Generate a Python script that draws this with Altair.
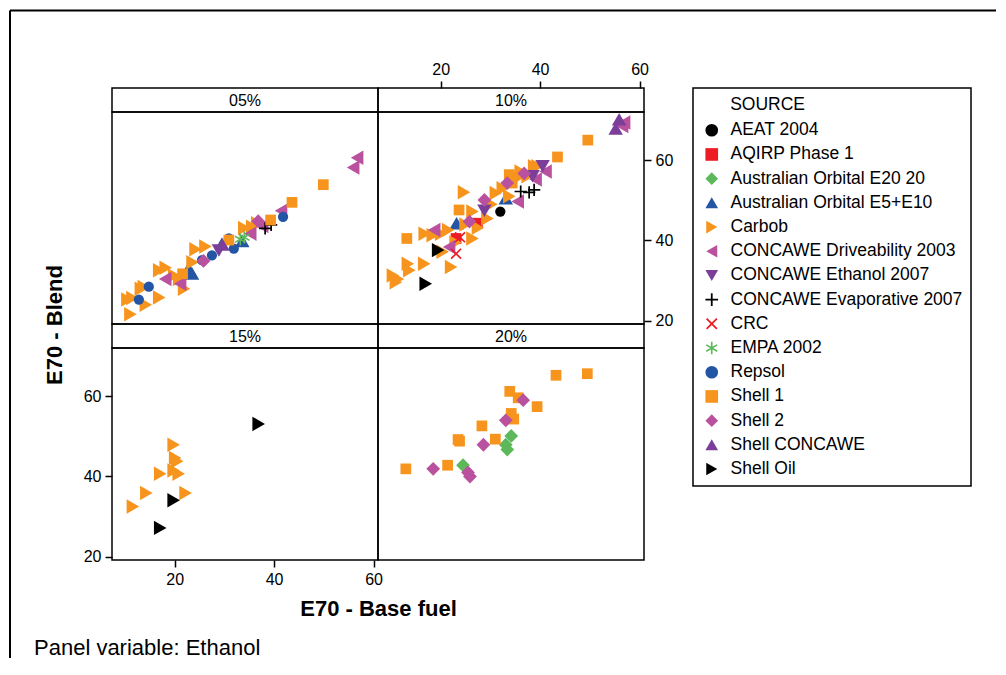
import math
import altair as alt
import pandas as pd

FONT = "Liberation Sans"

# ---------------- data ----------------
sources = ["AEAT 2004", "AQIRP Phase 1", "Australian Orbital E20 20", "Australian Orbital E5+E10",
           "Carbob", "CONCAWE Driveability 2003", "CONCAWE Ethanol 2007", "CONCAWE Evaporative 2007",
           "CRC", "EMPA 2002", "Repsol", "Shell 1", "Shell 2", "Shell CONCAWE", "Shell Oil"]
codes = {"AEAT": "AEAT 2004", "AQ": "AQIRP Phase 1", "A20": "Australian Orbital E20 20",
         "A5": "Australian Orbital E5+E10", "CB": "Carbob", "CD": "CONCAWE Driveability 2003",
         "CE": "CONCAWE Ethanol 2007", "CV": "CONCAWE Evaporative 2007", "CRC": "CRC",
         "EM": "EMPA 2002", "RP": "Repsol", "S1": "Shell 1", "S2": "Shell 2",
         "SC": "Shell CONCAWE", "SO": "Shell Oil"}
panels = ["05%", "10%", "15%", "20%"]

# Ethanol 05%
p05_src = ["CB"] * 18 + ["S1"] * 5 + ["CD"] * 7 + ["S2"] * 2 + ["RP"] * 7 + ["A5"] * 4 + ["CE", "SC", "CV", "CV", "EM", "EM"]
p05_base = [10.5, 11.5, 11.1, 13.2, 13.8, 14.2, 16.9, 16.9, 18.2, 19.9, 20.9, 21.9, 23.6, 24.2, 26.2, 34.0, 35.6, 36.6,
            21.6, 30.9, 39.3, 43.6, 49.9,
            18.1, 21.1, 35.2, 37.6, 41.4, 55.9, 56.7,
            25.8, 36.8,
            12.8, 14.8, 25.5, 27.5, 30.9, 31.9, 41.8,
            22.8, 23.5, 29.5, 33.6,
            28.9, 29.6, 38.2, 39.4, 33.2, 34.0]
p05_blend = [25.3, 25.7, 21.6, 28.0, 28.4, 24.0, 25.8, 32.6, 33.2, 31.3, 30.4, 28.0, 34.6, 37.8, 38.5, 43.1, 43.4, 44.3,
             31.7, 40.1, 45.1, 49.5, 53.9,
             30.4, 29.2, 41.7, 43.6, 47.4, 58.2, 60.6,
             34.9, 44.8,
             25.3, 28.5, 35.1, 36.3, 40.5, 38.0, 45.9,
             33.1, 31.8, 39.2, 39.9,
             37.5, 39.0, 43.0, 43.9, 40.3, 40.8]

# Ethanol 10%
p10_src = ["CB"] * 28 + ["S1"] * 6 + ["CD"] * 7 + ["CE"] * 3 + ["SC"] * 2 + ["S2"] * 4 + ["A5"] * 2 + ["AQ"] * 2 + ["CRC"] * 2 + ["CV"] * 3 + ["AEAT", "SO", "SO"]
p10_base = [10.4, 11.0, 11.4, 13.4, 13.7, 16.7, 16.8, 18.4, 20.1, 20.4, 21.5, 22.1, 23.0, 24.7, 25.0, 26.4, 26.4, 29.4,
            30.2, 31.1, 32.5, 33.8, 35.5, 36.1, 37.5, 38.8, 39.5, 27.5,
            13.2, 23.7, 33.8, 34.4, 43.5, 49.6,
            18.7, 21.7, 35.5, 39.1, 41.1, 56.5, 56.9,
            28.8, 38.5, 40.5,
            55.2, 55.9,
            25.8, 28.8, 33.4, 36.8,
            23.2, 33.1,
            23.1, 27.4,
            23.1, 23.9,
            36.1, 37.8, 38.8,
            32.0, 17.0, 19.5]
p10_blend = [31.3, 29.6, 30.4, 34.2, 32.6, 34.2, 41.7, 41.3, 41.7, 37.2, 42.6, 33.4, 39.5, 52.0, 44.0, 40.5, 47.2, 45.5,
             49.0, 51.8, 53.0, 51.0, 55.6, 57.2, 56.0, 58.5, 58.5, 43.2,
             40.5, 47.6, 56.4, 54.3, 60.8, 65.0,
             42.6, 38.4, 49.7, 55.2, 57.2, 68.5, 69.4,
             47.4, 56.0, 58.5,
             67.9, 70.2,
             44.7, 50.1, 54.3, 56.7,
             44.3, 50.5,
             40.5, 44.3,
             36.7, 40.8,
             52.2, 52.0, 52.6,
             47.2, 29.2, 37.6]

# Ethanol 15%
p15_src = ["CB"] * 9 + ["SO"] * 3
p15_base = [19.8, 20.1, 20.5, 19.8, 20.8, 17.1, 14.3, 22.2, 11.6, 36.9, 19.8, 17.1]
p15_blend = [47.9, 44.6, 43.8, 41.5, 40.7, 40.7, 35.9, 35.9, 32.5, 53.1, 34.1, 27.2]

# Ethanol 20%
p20_src = ["S1"] * 13 + ["S2"] * 6 + ["A20"] * 4
p20_base = [13.0, 21.4, 23.5, 23.8, 28.3, 31.0, 34.2, 34.7, 33.9, 35.6, 39.4, 43.2, 49.5,
            18.5, 25.5, 25.9, 28.6, 33.1, 36.6,
            24.5, 34.2, 33.1, 33.4]
p20_blend = [41.9, 42.8, 49.2, 48.8, 52.6, 49.3, 55.7, 54.3, 61.2, 59.6, 57.4, 65.2, 65.6,
             41.9, 41.0, 40.0, 47.9, 54.0, 59.0,
             42.8, 50.1, 47.9, 46.7]

x_ticks = [20, 40, 60]
y_ticks = [20, 40, 60]
x_title = "E70 - Base fuel"
y_title = "E70 - Blend"
legend_title = "SOURCE"
footnote = ["Panel variable: Ethanol"]


# ---------------- styles ----------------
def bars(angles, h, length=1.0):
    parts = []
    for a in angles:
        t = math.radians(a)
        c, s = math.cos(t) * length, math.sin(t) * length
        nx, ny = -math.sin(t) * h, math.cos(t) * h
        pts = [(-c + nx, -s + ny), (c + nx, s + ny), (c - nx, s - ny), (-c - nx, -s - ny)]
        parts.append("M" + "L".join(f"{x:.3f},{y:.3f}" for x, y in pts) + "Z")
    return "".join(parts)


PLUS = bars([0, 90], 0.14)
XMARK = bars([45, 135], 0.14, 1.15)
STAR = bars([90, 30, 150], 0.13)

colors = ["#000000", "#ED1C24", "#5DB85B", "#2454A4", "#F7941D", "#B9519F", "#7B3F99", "#000000",
          "#ED1C24", "#5DB85B", "#2454A4", "#F7941D", "#B9519F", "#7B3F99", "#000000"]
shapes = ["circle", "square", "diamond", "triangle-up", "triangle-right", "triangle-left", "triangle-down",
          PLUS, XMARK, STAR, "circle", "square", "diamond", "triangle-up", "triangle-right"]
marker_sizes = [105, 115, 190, 210, 210, 210, 210, 150, 150, 150, 105, 115, 190, 210, 210]

W, SH, PH = 266, 24, 212
xscale = alt.Scale(domain=[7.4, 60.9], nice=False, zero=False)
yscale = alt.Scale(domain=[19.2, 72.0], nice=False, zero=False)

legend = alt.Legend(
    title="\u200b" + "\u00a0" * 6 + legend_title, orient="none", legendX=581, legendY=0, direction="vertical",
    strokeColor="black", fillColor="white", padding=8,
    titleFont=FONT, titleFontSize=17.5, titleFontWeight="normal", titleColor="black", titlePadding=8,
    labelFont=FONT, labelFontSize=17.5, labelColor="black", labelLimit=400, labelOffset=10,
    symbolSize=160, symbolOffset=2, rowPadding=5.2,
    labelExpr="datum.label + '\u00a0\u00a0\u00a0'",
)
color = alt.Color("SOURCE:N", scale=alt.Scale(domain=sources, range=colors), legend=legend)
shape = alt.Shape("SOURCE:N", scale=alt.Scale(domain=sources, range=shapes), legend=legend)


def frame(panel, src, xs, ys):
    return pd.DataFrame({"Ethanol": panel, "SOURCE": [codes[s] for s in src], "base": xs, "blend": ys})


d05 = frame(panels[0], p05_src, p05_base, p05_blend)
d10 = frame(panels[1], p10_src, p10_base, p10_blend)
d15 = frame(panels[2], p15_src, p15_base, p15_blend)
d20 = frame(panels[3], p20_src, p20_base, p20_blend)


def plot(df, xaxis=None, yaxis=None):
    base = alt.Chart(df).encode(
        x=alt.X("base:Q", scale=xscale, axis=xaxis),
        y=alt.Y("blend:Q", scale=yscale, axis=yaxis),
        color=color, shape=shape,
    )
    present = [s for s in sources if s in set(df["SOURCE"])]
    layers = [
        base.transform_filter(alt.datum.SOURCE == src).mark_point(
            filled=True, opacity=1, strokeWidth=0, size=marker_sizes[sources.index(src)])
        for src in present
    ]
    return alt.layer(*layers).properties(width=W, height=PH)


def strip(label):
    return alt.Chart(pd.DataFrame({"Ethanol": [label]})).mark_text(
        font=FONT, fontSize=16, color="black", baseline="middle", align="center"
    ).encode(x=alt.value(W / 2), y=alt.value(SH / 2 + 0.5), text="Ethanol:N").properties(width=W, height=SH)


one = pd.DataFrame({"k": [0]})
frame_top = alt.Chart(one).mark_rule(color="black", strokeWidth=2).encode(
    x=alt.value(-102), x2=alt.value(884), y=alt.value(-77.5))
frame_left = alt.Chart(one).mark_rule(color="black", strokeWidth=2).encode(
    x=alt.value(-102), y=alt.value(-77.5), y2=alt.value(570))

strip05 = alt.layer(frame_top, frame_left, strip(panels[0])).properties(width=W, height=SH)

top_axis = alt.Axis(orient="top", values=x_ticks, title=None, labelFlush=False)
axis_layer = alt.Chart(d10).mark_point(opacity=0, size=1).encode(
    x=alt.X("base:Q", scale=xscale, axis=top_axis))
strip10 = alt.layer(strip(panels[1]), axis_layer).properties(width=W, height=SH)
strip15 = strip(panels[2])
strip20 = strip(panels[3])

plot05 = plot(d05)
plot10 = plot(d10, yaxis=alt.Axis(orient="right", values=y_ticks, title=None))
plot15_pts = plot(
    d15,
    xaxis=alt.Axis(orient="bottom", values=x_ticks, title=x_title, labelFlush=False,
                   titleX=W, titleY=55.5, titleBaseline="alphabetic", titleAlign="center"),
    yaxis=alt.Axis(orient="left", values=y_ticks, title=y_title,
                   titleX=-50.3, titleY=-23.5, titleBaseline="alphabetic", titleAlign="center"),
)
foot = alt.Chart(pd.DataFrame({"t": footnote})).mark_text(
    align="left", baseline="alphabetic", font=FONT, fontSize=22, color="black"
).encode(x=alt.value(-78), y=alt.value(307), text="t:N")
plot15 = alt.layer(plot15_pts, foot).properties(width=W, height=PH)
plot20 = plot(d20)

chart = alt.concat(
    strip05, strip10, plot05, plot10, strip15, strip20, plot15, plot20,
    columns=2, spacing=0, bounds="flush", align="each", padding=0,
).configure(font=FONT).configure_view(
    stroke="black", strokeWidth=1.5
).configure_axis(
    labelFont=FONT, labelFontSize=16, labelColor="black", tickColor="black", tickSize=7, tickWidth=1.5,
    domain=False, grid=False, labelPadding=4, titleFont=FONT, titleFontSize=22, titleFontWeight="bold",
    titleColor="black",
).configure_legend(strokeWidth=1.5)

chart.save("out.html", embed_options={"renderer": "svg", "actions": False})
